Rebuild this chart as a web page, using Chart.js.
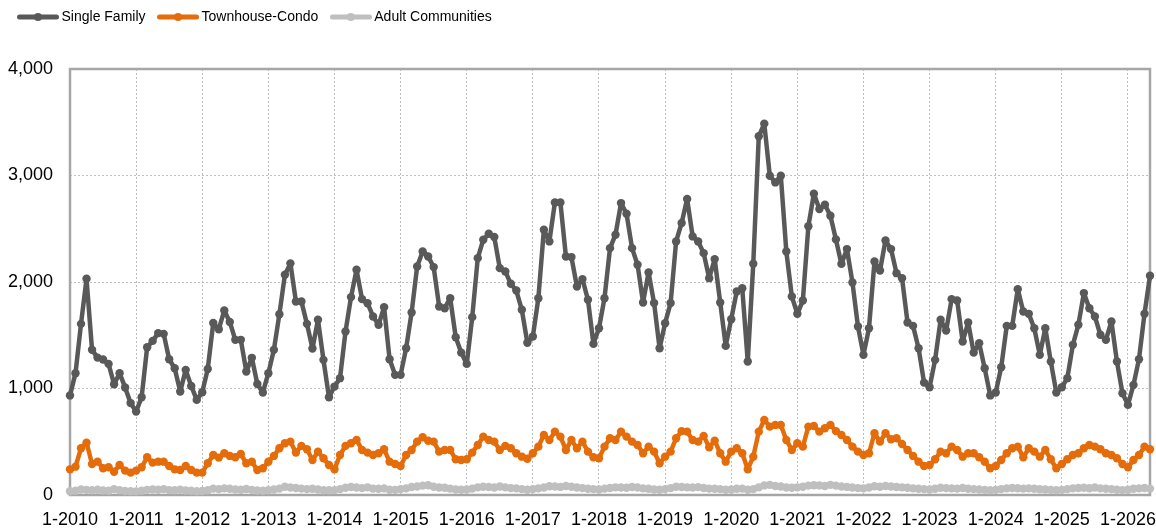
<!DOCTYPE html>
<html>
<head>
<meta charset="utf-8">
<script src="https://cdn.jsdelivr.net/npm/chart.js@4.4.0/dist/chart.umd.min.js"></script>
<style>
  html, body { margin: 0; padding: 0; background: #fff; }
</style>
</head>
<body>
<canvas id="salesChart" width="1156" height="530"></canvas>
<script>
// Data (monthly, 1-2010 .. 5-2026)
const seriesNames = ['Single Family', 'Townhouse-Condo', 'Adult Communities'];
const seriesColors = ['#595959', '#E46C0A', '#BFBFBF'];
const yTicks = [0, 1000, 2000, 3000, 4000];

const singleFamily = [
  935, 1144, 1607, 2030, 1363, 1290, 1272, 1231, 1040, 1144, 1010, 863,
  783, 918, 1388, 1447, 1520, 1513, 1275, 1190, 971, 1175, 1024, 893,
  965, 1183, 1615, 1557, 1732, 1625, 1457, 1457, 1159, 1288, 1042, 963,
  1144, 1363, 1697, 2068, 2175, 1817, 1817, 1607, 1375, 1645, 1269, 918,
  1018, 1097, 1535, 1858, 2115, 1839, 1801, 1676, 1598, 1764, 1275, 1128,
  1128, 1378, 1714, 2146, 2287, 2240, 2140, 1770, 1754, 1848, 1482, 1337,
  1231, 1670, 2224, 2397, 2453, 2422, 2130, 2099, 1983, 1920, 1739, 1430,
  1488, 1848, 2491, 2381, 2747, 2747, 2240, 2234, 1958, 2027, 1833, 1419,
  1566, 1848, 2318, 2444, 2741, 2641, 2318, 2162, 1808, 2090, 1802, 1378,
  1613, 1802, 2381, 2554, 2779, 2428, 2381, 2271, 2036, 2215, 1808, 1400,
  1651, 1911, 1942, 1253, 2171, 3368, 3487, 2998, 2935, 2998, 2287, 1864,
  1701, 1826, 2523, 2829, 2685, 2726, 2622, 2400, 2170, 2309, 1996, 1582,
  1316, 1566, 2193, 2108, 2390, 2309, 2083, 2036, 1620, 1588, 1378, 1055,
  1012, 1269, 1645, 1544, 1839, 1826, 1441, 1620, 1337, 1426, 1190, 935,
  962, 1200, 1588, 1588, 1933, 1723, 1701, 1566, 1316, 1566, 1253, 962,
  1012, 1097, 1410, 1598, 1896, 1754, 1676, 1504, 1457, 1629, 1253, 956,
  846, 1034, 1275, 1701, 2058
];

const townhouseCondo = [
  241, 266, 439, 492, 291, 313, 251, 260, 219, 282, 229, 210,
  229, 260, 354, 304, 313, 313, 272, 241, 235, 272, 235, 210,
  210, 298, 376, 351, 392, 367, 354, 385, 298, 313, 235, 251,
  313, 367, 439, 486, 501, 398, 461, 429, 329, 407, 345, 282,
  241, 376, 461, 486, 517, 423, 398, 376, 392, 429, 313, 291,
  272, 376, 423, 501, 542, 510, 501, 407, 423, 423, 335, 329,
  335, 398, 470, 548, 517, 501, 423, 461, 439, 392, 360, 340,
  392, 454, 564, 517, 595, 548, 423, 517, 439, 501, 407, 354,
  345, 454, 533, 517, 595, 548, 501, 470, 392, 454, 407, 298,
  360, 407, 533, 600, 595, 517, 501, 555, 448, 510, 392, 313,
  407, 439, 392, 241, 360, 595, 705, 642, 658, 658, 517, 423,
  486, 454, 642, 648, 595, 627, 658, 600, 564, 517, 454, 407,
  376, 392, 580, 501, 580, 523, 533, 479, 423, 367, 313, 272,
  282, 335, 407, 392, 454, 423, 360, 392, 392, 354, 313, 251,
  272, 329, 392, 439, 454, 354, 439, 407, 360, 423, 335, 251,
  291, 335, 376, 392, 439, 470, 454, 429, 392, 376, 345, 291,
  260, 329, 376, 454, 429
];

const adultCommunities = [
  35, 40, 52, 48, 45, 50, 42, 40, 55, 45, 38, 36,
  34, 40, 48, 52, 50, 55, 46, 44, 50, 42, 40, 35,
  38, 45, 60, 55, 62, 58, 52, 50, 56, 48, 42, 40,
  45, 52, 60, 78, 70, 66, 60, 55, 58, 52, 45, 44,
  46, 55, 68, 75, 70, 65, 72, 60, 58, 62, 50, 48,
  55, 62, 75, 80, 88, 92, 78, 70, 68, 60, 52, 50,
  52, 60, 72, 78, 75, 70, 80, 72, 65, 62, 55, 50,
  55, 62, 70, 82, 80, 76, 85, 78, 70, 65, 58, 55,
  52, 60, 66, 72, 70, 68, 75, 70, 62, 58, 52, 50,
  55, 65, 78, 75, 72, 70, 74, 66, 60, 58, 55, 50,
  52, 58, 60, 50, 55, 72, 90, 95, 85, 80, 70, 68,
  72, 78, 88, 92, 90, 85, 95, 88, 80, 76, 70, 65,
  62, 70, 82, 78, 85, 80, 75, 72, 68, 62, 58, 55,
  52, 58, 68, 65, 62, 60, 66, 58, 55, 52, 48, 45,
  48, 55, 62, 66, 64, 60, 62, 58, 54, 52, 48, 44,
  48, 55, 62, 66, 68, 64, 70, 62, 58, 55, 50, 46,
  50, 58, 62, 66, 60
];

// month labels "m-yyyy"
const months = [];
for (let i = 0; i < singleFamily.length; i++) {
  months.push((i % 12 + 1) + '-' + (2010 + Math.floor(i / 12)));
}

// legend icon: thick line with a dot in the middle
function legendIcon(color) {
  const c = document.createElement('canvas');
  c.width = 42;
  c.height = 10;
  const g = c.getContext('2d');
  g.strokeStyle = color;
  g.lineWidth = 5;
  g.lineCap = 'round';
  g.beginPath();
  g.moveTo(2.5, 5);
  g.lineTo(39.5, 5);
  g.stroke();
  g.fillStyle = color;
  g.beginPath();
  g.arc(21, 5, 4, 0, Math.PI * 2);
  g.fill();
  return c;
}
const legendIcons = seriesColors.map(legendIcon);

// fixed legend height so the plot starts where the reference does
const legendHeight = {
  id: 'legendHeight',
  beforeInit(chart) {
    const fit = chart.legend.fit;
    chart.legend.fit = function () {
      fit.bind(chart.legend)();
      this.height = 75;
    };
  }
};

// grey frame round the plot area
const plotFrame = {
  id: 'plotFrame',
  beforeDatasetsDraw(chart) {
    const { ctx, chartArea: a } = chart;
    ctx.save();
    ctx.strokeStyle = '#A6A6A6';
    ctx.lineWidth = 2.5;
    ctx.strokeRect(a.left, a.top, a.right - a.left, a.bottom - a.top);
    ctx.restore();
  }
};

const tickFont = { family: "'Liberation Sans', Arial, sans-serif", size: 18 };
const values = [singleFamily, townhouseCondo, adultCommunities];

const ctx = document.getElementById('salesChart').getContext('2d');
const salesChart = new Chart(ctx, {
  type: 'line',
  data: {
    labels: months,
    datasets: seriesNames.map((name, i) => ({
      label: name,
      data: values[i],
      borderColor: seriesColors[i],
      backgroundColor: seriesColors[i],
      borderWidth: 4.5,
      borderJoinStyle: 'round',
      borderCapStyle: 'round',
      pointRadius: 4.2,
      pointBorderWidth: 0,
      pointBackgroundColor: seriesColors[i],
      tension: 0,
      clip: false
    }))
  },
  options: {
    responsive: false,
    animation: false,
    devicePixelRatio: 1,
    layout: { autoPadding: false, padding: { left: 5.5, right: 6, top: -6, bottom: 0 } },
    plugins: {
      tooltip: { enabled: false },
      legend: {
        position: 'top',
        align: 'start',
        labels: {
          usePointStyle: true,
          pointStyleWidth: 33,
          padding: 16,
          color: '#000',
          font: { family: "'Liberation Sans', Arial, sans-serif", size: 14 },
          generateLabels: chart =>
            Chart.defaults.plugins.legend.labels.generateLabels(chart)
              .map((item, i) => ({ ...item, pointStyle: legendIcons[i] }))
        }
      }
    },
    scales: {
      x: {
        type: 'category',
        offset: false,
        afterFit: scale => {
          scale.height = 35;
          scale.paddingLeft = 0;
          scale.paddingRight = 0;
        },
        grid: { color: '#BFBFBF', lineWidth: 1, drawTicks: false },
        border: { display: false, dash: [2, 2] },
        ticks: {
          autoSkip: false,
          maxRotation: 0,
          padding: 14,
          color: '#000',
          font: tickFont,
          callback: function (val, idx) {
            return idx % 12 === 0 ? this.getLabelForValue(val) : null;
          }
        }
      },
      y: {
        min: 0,
        max: 4000,
        afterBuildTicks: scale => { scale.ticks = yTicks.map(v => ({ value: v })); },
        afterFit: scale => {
          scale.width = 64.5;
          scale.paddingTop = 0;
          scale.paddingBottom = 0;
        },
        grid: { color: '#BFBFBF', lineWidth: 1, drawTicks: false },
        border: { display: false, dash: [2, 2] },
        ticks: {
          padding: 17,
          color: '#000',
          font: tickFont,
          callback: v => v.toLocaleString('en-US')
        }
      }
    }
  },
  plugins: [legendHeight, plotFrame]
});
</script>
</body>
</html>
